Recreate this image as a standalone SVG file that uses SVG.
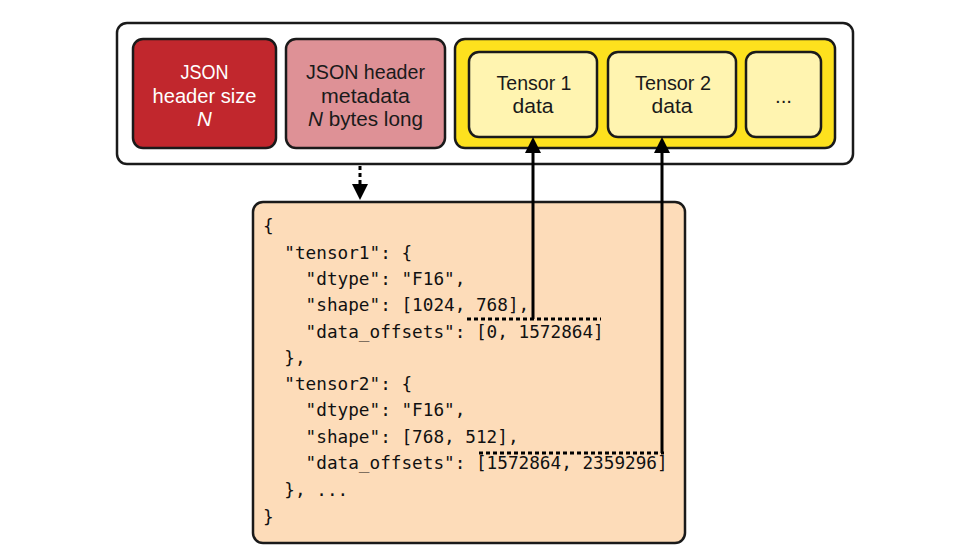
<svg xmlns="http://www.w3.org/2000/svg" width="954" height="554" viewBox="0 0 954 554">
<style>
.box{stroke:#1a1a1a;stroke-width:2.5}
.lbl{font-family:"Liberation Sans",Arial,sans-serif;font-size:20.5px;text-anchor:middle}
.code{font-family:"DejaVu Sans Mono","Liberation Mono",monospace;font-size:17.7px;fill:#111}
.conn{stroke:#000;stroke-width:3;fill:none}
.dot{stroke:#000;stroke-width:3;fill:none;stroke-dasharray:4 3}
</style>
<rect width="954" height="554" fill="#fff"/>
<g id="file">
<rect class="box" x="117" y="23" width="736" height="141" rx="10" fill="#fff"/>
</g>
<g id="header-size">
<rect class="box" x="133" y="39" width="143" height="109" rx="10" fill="#c1272d"/>
<text class="lbl" fill="#fff" x="204.5" y="79" textLength="48" lengthAdjust="spacingAndGlyphs">JSON</text>
<text class="lbl" fill="#fff" x="204.5" y="103" textLength="104" lengthAdjust="spacingAndGlyphs">header size</text>
<text class="lbl" fill="#fff" x="204.5" y="126" font-style="italic">N</text>
</g>
<g id="header-metadata">
<rect class="box" x="286" y="39" width="159" height="109" rx="10" fill="#de9196"/>
<text class="lbl" fill="#1a1a1a" x="365.5" y="79" textLength="119" lengthAdjust="spacingAndGlyphs">JSON header</text>
<text class="lbl" fill="#1a1a1a" x="365.5" y="103" textLength="89" lengthAdjust="spacingAndGlyphs">metadata</text>
<text class="lbl" fill="#1a1a1a" x="365.5" y="126" textLength="115" lengthAdjust="spacingAndGlyphs"><tspan font-style="italic">N</tspan> bytes long</text>
</g>
<g id="tensor-data">
<rect class="box" x="455" y="39" width="380" height="109" rx="10" fill="#fde11e"/>
</g>
<g id="tensor1">
<rect class="box" x="469" y="52" width="128" height="85" rx="10" fill="#fff4b0"/>
<text class="lbl" fill="#1a1a1a" x="534" y="90" textLength="75" lengthAdjust="spacingAndGlyphs">Tensor 1</text>
<text class="lbl" fill="#1a1a1a" x="533" y="113" textLength="41" lengthAdjust="spacingAndGlyphs">data</text>
</g>
<g id="tensor2">
<rect class="box" x="608" y="52" width="128" height="85" rx="10" fill="#fff4b0"/>
<text class="lbl" fill="#1a1a1a" x="673" y="90" textLength="76" lengthAdjust="spacingAndGlyphs">Tensor 2</text>
<text class="lbl" fill="#1a1a1a" x="672" y="113" textLength="41" lengthAdjust="spacingAndGlyphs">data</text>
</g>
<g id="more">
<rect class="box" x="746" y="52" width="75" height="85" rx="10" fill="#fff4b0"/>
<text class="lbl" fill="#1a1a1a" x="783.5" y="103">...</text>
</g>
<g id="json">
<rect class="box" x="253" y="202" width="432" height="341" rx="10" fill="#fddcb9"/>
<text class="code" xml:space="preserve"><tspan x="263" y="232">{</tspan><tspan x="263" y="259">  "tensor1": {</tspan><tspan x="263" y="285">    "dtype": "F16",</tspan><tspan x="263" y="311">    "shape": [1024, 768],</tspan><tspan x="263" y="338">    "data_offsets": [0, 1572864]</tspan><tspan x="263" y="364">  },</tspan><tspan x="263" y="390">  "tensor2": {</tspan><tspan x="263" y="416">    "dtype": "F16",</tspan><tspan x="263" y="443">    "shape": [768, 512],</tspan><tspan x="263" y="469">    "data_offsets": [1572864, 2359296]</tspan><tspan x="263" y="496">  }, ...</tspan><tspan x="263" y="523">}</tspan></text>
</g>
<g id="connectors">
<line class="dot" x1="360" y1="166" x2="360" y2="185"/>
<path d="M352,184 L368,184 L360,200 z" fill="#000"/>
<line class="dot" x1="467" y1="319" x2="601" y2="319"/>
<line class="conn" x1="533" y1="319" x2="533" y2="152"/>
<path d="M525,153 L541,153 L533,137 z" fill="#000"/>
<line class="dot" x1="479" y1="453" x2="664" y2="453"/>
<polyline class="conn" points="662,453 662,152"/>
<path d="M654,153 L670,153 L662,137 z" fill="#000"/>
</g>
</svg>
